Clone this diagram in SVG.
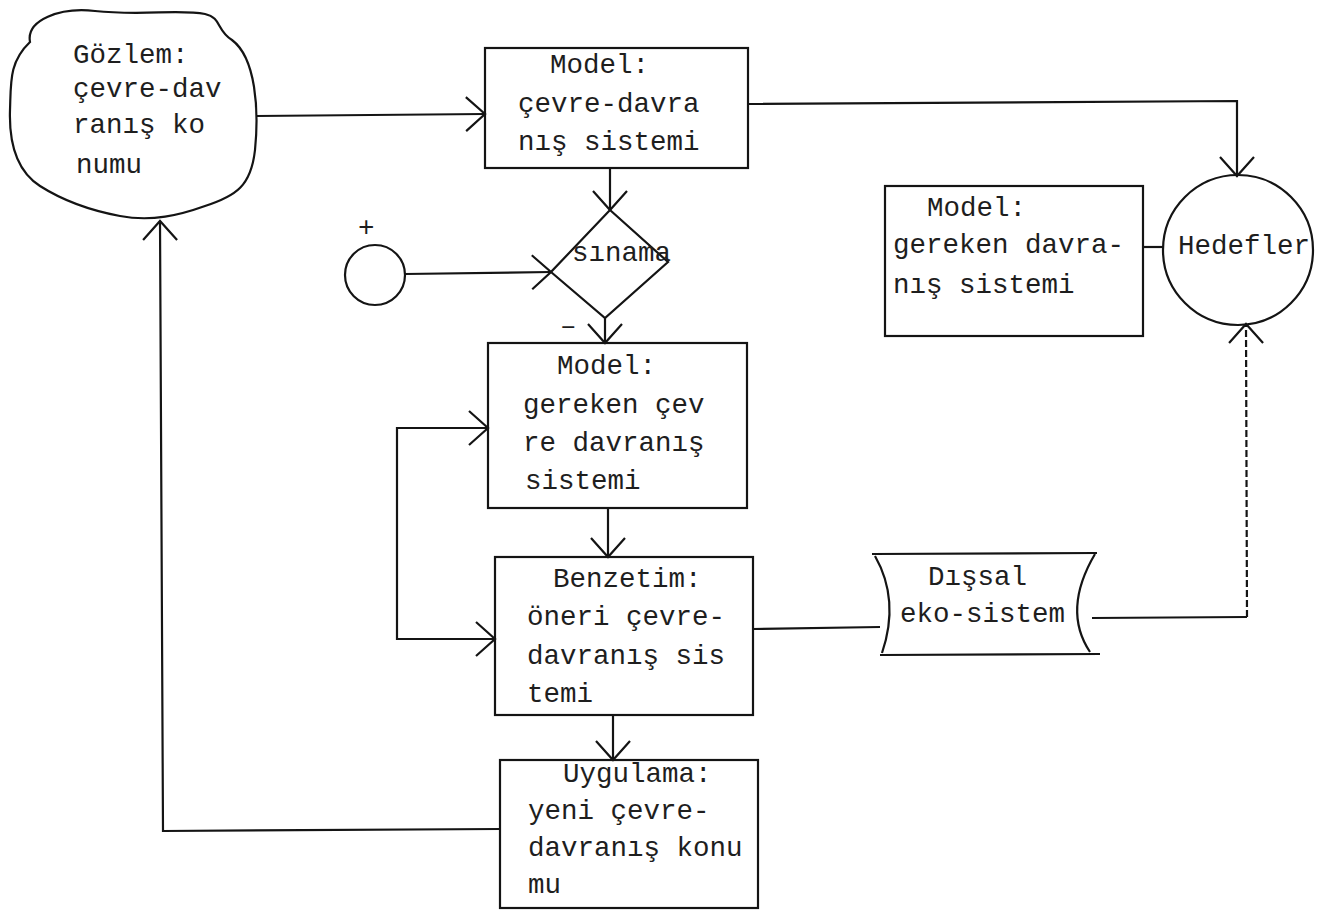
<svg xmlns="http://www.w3.org/2000/svg" width="1329" height="918" viewBox="0 0 1329 918">
<style>
text{font-family:"Liberation Mono","DejaVu Sans Mono",monospace;font-size:27.5px;fill:#1e1e1e}
.s{fill:none;stroke:#141414;stroke-width:2.2}
.c{fill:none;stroke:#141414;stroke-width:2.2}
.d{stroke-dasharray:7 3}
</style>
<defs>
<marker id="a" viewBox="-22 -20 24 40" refX="0" refY="0" markerWidth="24" markerHeight="40" markerUnits="userSpaceOnUse" orient="auto">
<path d="M-19,-17 L0,0 L-19,17" fill="none" stroke="#141414" stroke-width="2.2"/>
</marker>
<marker id="as" viewBox="-22 -20 24 40" refX="0" refY="0" markerWidth="24" markerHeight="40" markerUnits="userSpaceOnUse" orient="auto-start-reverse">
<path d="M-19,-17 L0,0 L-19,17" fill="none" stroke="#141414" stroke-width="2.2"/>
</marker>
</defs>
<rect width="1329" height="918" fill="#ffffff"/>

<g id="connectors">
<line class="c" x1="256" y1="116" x2="485" y2="114" marker-end="url(#a)"/>
<polyline class="c" points="748,104 1237,101 1237,176" marker-end="url(#a)"/>
<line class="c" x1="610" y1="168" x2="610" y2="210" marker-end="url(#a)"/>
<line class="c" x1="405" y1="274" x2="551" y2="272" marker-end="url(#a)"/>
<line class="c" x1="605" y1="318" x2="605" y2="343" marker-end="url(#a)"/>
<polyline class="c" points="488,428 397,428 397,639 495,639" marker-start="url(#as)" marker-end="url(#a)"/>
<line class="c" x1="608" y1="508" x2="608" y2="557" marker-end="url(#a)"/>
<line class="c" x1="613" y1="715" x2="613" y2="760" marker-end="url(#a)"/>
<polyline class="c" points="500,829 163,831 160,221" marker-end="url(#a)"/>
<line class="c" x1="753" y1="629" x2="880" y2="627"/>
<line class="c" x1="1092" y1="618" x2="1247" y2="617"/>
<line class="c d" x1="1247" y1="617" x2="1246" y2="324" marker-end="url(#a)"/>
<line class="c" x1="1143" y1="247" x2="1163" y2="247"/>
</g>

<g id="gozlem">
<path class="s" d="M30,42 C26,20 60,7 95,11 C140,16 180,9 205,14 C222,18 216,30 232,40 C256,58 259,110 255,150 C251,186 236,196 205,206 C180,215 152,222 120,216 C88,210 62,200 40,186 C15,170 9,140 10,110 C11,82 9,62 30,42 Z"/>
<text x="73" y="63">Gözlem:</text>
<text x="73" y="97">çevre-dav</text>
<text x="73" y="133">ranış ko</text>
<text x="76" y="173">numu</text>
</g>

<g id="model1">
<rect class="s" x="485" y="48" width="263" height="120"/>
<text x="550" y="73">Model:</text>
<text x="518" y="112">çevre-davra</text>
<text x="518" y="150">nış sistemi</text>
</g>

<g id="sinama">
<polygon class="s" points="610,210 668,262 605,318 551,272"/>
<text x="572" y="261">sınama</text>
</g>

<g id="giris">
<circle class="s" cx="375" cy="275" r="30"/>
<text x="358" y="236">+</text>
<text x="560" y="334">–</text>
</g>

<g id="model2">
<rect class="s" x="488" y="343" width="259" height="165"/>
<text x="557" y="374">Model:</text>
<text x="523" y="413">gereken çev</text>
<text x="523" y="451">re davranış</text>
<text x="525" y="489">sistemi</text>
</g>

<g id="benzetim">
<rect class="s" x="495" y="557" width="258" height="158"/>
<text x="553" y="587">Benzetim:</text>
<text x="527" y="625">öneri çevre-</text>
<text x="527" y="664">davranış sis</text>
<text x="527" y="702">temi</text>
</g>

<g id="uygulama">
<rect class="s" x="500" y="760" width="258" height="148"/>
<text x="563" y="782">Uygulama:</text>
<text x="528" y="819">yeni çevre-</text>
<text x="528" y="856">davranış konu</text>
<text x="528" y="893">mu</text>
</g>

<g id="dissal">
<line class="s" x1="872" y1="554" x2="1097" y2="553"/>
<line class="s" x1="880" y1="655" x2="1100" y2="654"/>
<path class="s" d="M875,556 Q900,600 882,653"/>
<path class="s" d="M1095,554 Q1062,610 1090,652"/>
<text x="928" y="585">Dışsal</text>
<text x="900" y="622">eko-sistem</text>
</g>

<g id="model3">
<rect class="s" x="885" y="186" width="258" height="150"/>
<text x="927" y="216">Model:</text>
<text x="893" y="253">gereken davra-</text>
<text x="893" y="293">nış sistemi</text>
</g>

<g id="hedefler">
<circle class="s" cx="1238" cy="250" r="75"/>
<text x="1178" y="254">Hedefler</text>
</g>
</svg>
